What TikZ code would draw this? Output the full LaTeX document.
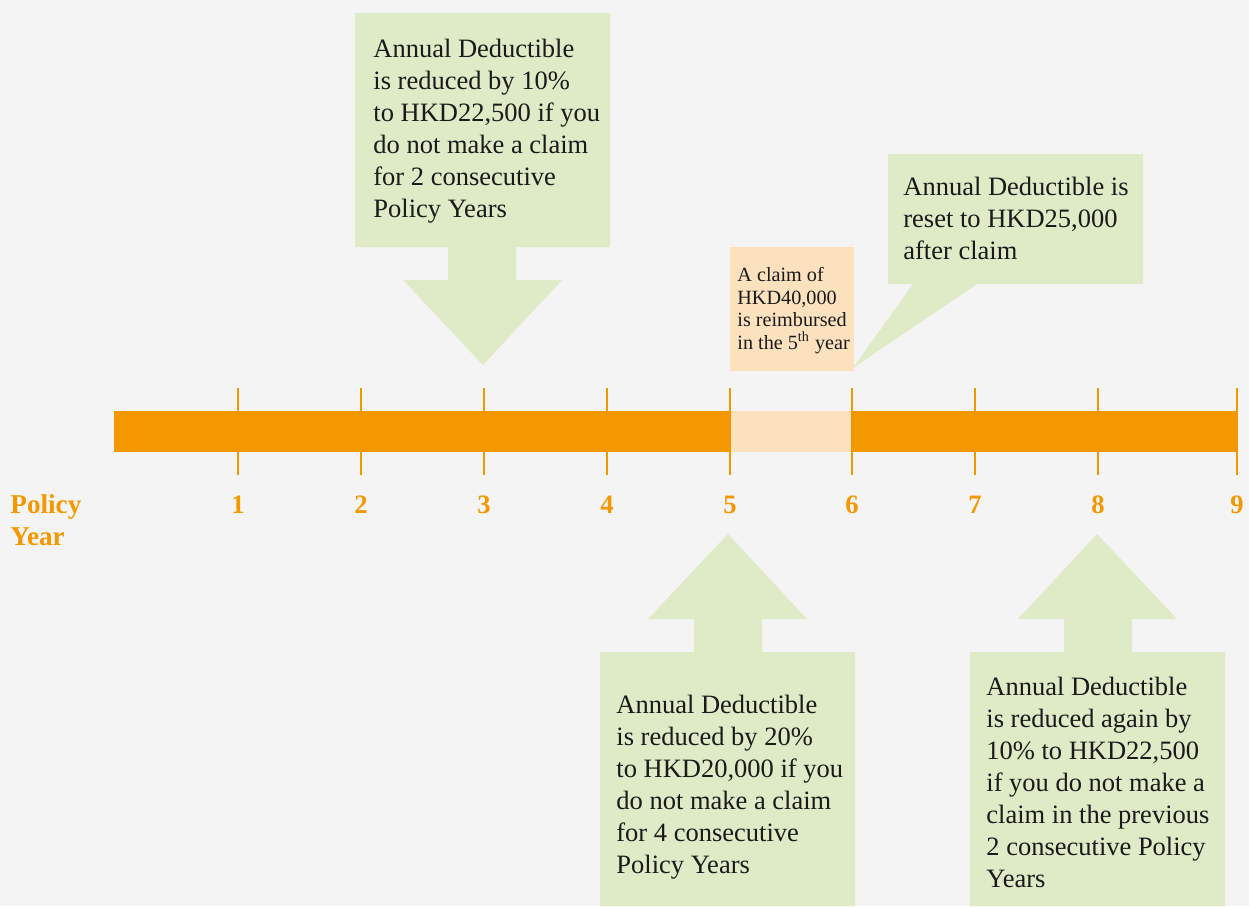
\documentclass[tikz,border=0pt]{standalone}
\usepackage{fontspec}
\setmainfont{Liberation Serif}
\definecolor{bgc}{HTML}{F3F4F3}
\definecolor{orangec}{HTML}{F39800}
\definecolor{peachc}{HTML}{FCE1BE}
\definecolor{greenc}{HTML}{DEEBC6}
\definecolor{textc}{HTML}{1A1A1A}
\tikzset{
  boxtext/.style={anchor=north west, inner sep=0pt, align=left, text=textc,
    font=\fontsize{13.25pt}{16pt}\selectfont},
  claimtext/.style={anchor=north west, inner sep=0pt, align=left, text=textc,
    font=\fontsize{10.1pt}{11.25pt}\selectfont},
  yearlbl/.style={anchor=base, inner sep=0pt, text=orangec,
    font=\fontsize{13.3pt}{16pt}\selectfont\bfseries},
  tickline/.style={draw=orangec, line width=1pt},
  greenshape/.style={fill=greenc},
}
\begin{document}
\begin{tikzpicture}[x=0.5pt,y=-0.5pt]
\fill[bgc] (0,0) rectangle (1249,906);
\useasboundingbox (0,0) rectangle (1249,906);

% timeline bar
\fill[orangec] (114,411) rectangle (1237,452);
\fill[peachc] (730,411) rectangle (852,452);
\foreach \x/\n in {238/1,361/2,484/3,607/4,730/5,852/6,975/7,1098/8,1237/9}{
  \draw[tickline] (\x,388) -- (\x,475);
  \node[yearlbl] (yr\n) at (\x,513) {\n};
}
\node[yearlbl, anchor=base west, align=left, font=\fontsize{13.6pt}{16pt}\selectfont\bfseries] (policy) at (10,545) {Policy\\Year};

% box 1 with down arrow
\fill[greenshape] (355,13) -- (610,13) -- (610,247) -- (516,247) -- (516,280)
  -- (562,280) -- (483,365) -- (403,280) -- (448,280) -- (448,247) -- (355,247) -- cycle;
\node[boxtext] (t1) at (373,39) {Annual Deductible\\is reduced by 10\%\\to HKD22,500 if you\\do not make a claim\\for 2 consecutive\\Policy Years};

% speech bubble
\fill[greenshape] (888,154) -- (1143,154) -- (1143,284) -- (977,284) -- (853,368)
  -- (913,284) -- (888,284) -- cycle;
\node[boxtext] (t3) at (903,177) {Annual Deductible is\\reset to HKD25,000\\after claim};

% claim box
\fill[peachc] (730,247) rectangle (854,371);
\node[claimtext] (t2) at (737,267) {A claim of\\HKD40,000\\is reimbursed\\in the 5\textsuperscript{th} year};

% box 4 with up arrow
\fill[greenshape] (600,906) -- (600,652) -- (694,652) -- (694,619) -- (648,619)
  -- (728,534) -- (807,619) -- (762,619) -- (762,652) -- (855,652) -- (855,906) -- cycle;
\node[boxtext] (t4) at (616,695) {Annual Deductible\\is reduced by 20\%\\to HKD20,000 if you\\do not make a claim\\for 4 consecutive\\Policy Years};

% box 5 with up arrow
\fill[greenshape] (970,906) -- (970,652) -- (1064,652) -- (1064,619) -- (1018,619)
  -- (1097,534) -- (1177,619) -- (1132,619) -- (1132,652) -- (1225,652) -- (1225,906) -- cycle;
\node[boxtext] (t5) at (986,677) {Annual Deductible\\is reduced again by\\10\% to HKD22,500\\if you do not make a\\claim in the previous\\2 consecutive Policy\\Years};
\end{tikzpicture}
\end{document}
